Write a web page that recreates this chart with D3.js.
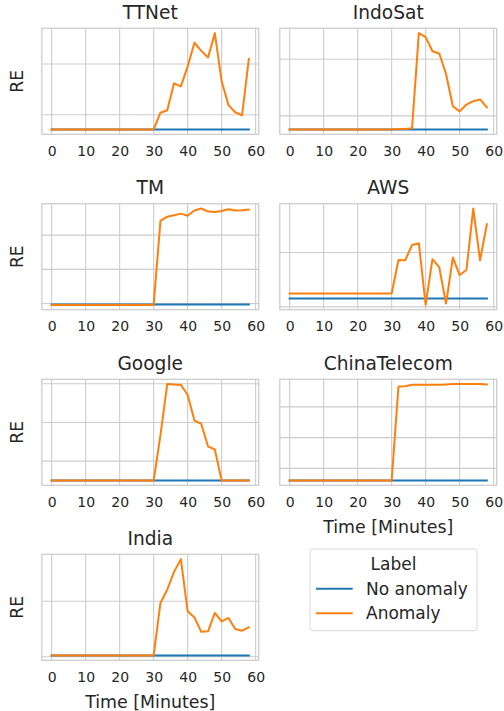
<!DOCTYPE html>
<html>
<head>
<meta charset="utf-8">
<script src="https://cdn.jsdelivr.net/npm/d3@7"></script>
<style>
body { margin: 0; background: #fff; }
text { font-family: "DejaVu Sans", sans-serif; fill: #262626; }
</style>
</head>
<body>
<svg width="504" height="711"></svg>
<script>
// time axis, one sample every 2 minutes
var minutes = [0, 2, 4, 6, 8, 10, 12, 14, 16, 18, 20, 22, 24, 26, 28, 30, 32, 34, 36, 38, 40, 42, 44, 46, 48, 50, 52, 54, 56, 58];
var xTicks = [0, 10, 20, 30, 40, 50, 60];

var panelNames = ["TTNet", "IndoSat", "TM", "AWS", "Google", "ChinaTelecom", "India"];
var labels = ["No anomaly", "Anomaly"];

var ttnetNormal = [0.71, 0.71, 0.71, 0.71, 0.71, 0.71, 0.71, 0.71, 0.71, 0.71, 0.71, 0.71, 0.71, 0.71, 0.71, 0.71, 0.71, 0.71, 0.71, 0.71, 0.71, 0.71, 0.71, 0.71, 0.71, 0.71, 0.71, 0.71, 0.71, 0.71];
var ttnetAnomaly = [0.71, 0.71, 0.71, 0.71, 0.71, 0.71, 0.71, 0.71, 0.71, 0.71, 0.71, 0.71, 0.71, 0.71, 0.71, 0.71, 1.04, 1.09, 1.62, 1.56, 1.95, 2.42, 2.26, 2.13, 2.61, 1.66, 1.19, 1.05, 0.99, 2.10];

var indosatNormal = [0.76, 0.76, 0.76, 0.76, 0.76, 0.76, 0.76, 0.76, 0.76, 0.76, 0.76, 0.76, 0.76, 0.76, 0.76, 0.76, 0.76, 0.76, 0.76, 0.76, 0.76, 0.76, 0.76, 0.76, 0.76, 0.76, 0.76, 0.76, 0.76, 0.76];
var indosatAnomaly = [0.76, 0.76, 0.76, 0.76, 0.76, 0.76, 0.76, 0.76, 0.76, 0.76, 0.76, 0.76, 0.76, 0.76, 0.76, 0.76, 0.77, 0.77, 0.78, 2.46, 2.39, 2.14, 2.10, 1.74, 1.17, 1.08, 1.20, 1.26, 1.29, 1.15];

var tmNormal = [0.97, 0.97, 0.97, 0.97, 0.97, 0.97, 0.97, 0.97, 0.97, 0.97, 0.97, 0.97, 0.97, 0.97, 0.97, 0.97, 0.97, 0.97, 0.97, 0.97, 0.97, 0.97, 0.97, 0.97, 0.97, 0.97, 0.97, 0.97, 0.97, 0.97];
var tmAnomaly = [0.96, 0.96, 0.96, 0.96, 0.96, 0.96, 0.96, 0.96, 0.96, 0.96, 0.96, 0.96, 0.96, 0.96, 0.96, 0.96, 3.42, 3.54, 3.58, 3.63, 3.57, 3.72, 3.78, 3.69, 3.68, 3.71, 3.76, 3.72, 3.73, 3.75];

var awsNormal = [0.154, 0.154, 0.154, 0.154, 0.154, 0.154, 0.154, 0.154, 0.154, 0.154, 0.154, 0.154, 0.154, 0.154, 0.154, 0.154, 0.154, 0.154, 0.154, 0.154, 0.154, 0.154, 0.154, 0.154, 0.154, 0.154, 0.154, 0.154, 0.154, 0.154];
var awsAnomaly = [0.247, 0.247, 0.247, 0.247, 0.247, 0.247, 0.247, 0.247, 0.247, 0.247, 0.247, 0.247, 0.247, 0.247, 0.247, 0.247, 0.864, 0.858, 1.14, 1.17, 0.037, 0.877, 0.728, 0.062, 0.907, 0.586, 0.679, 1.81, 0.858, 1.52];

var googleNormal = [0.5, 0.5, 0.5, 0.5, 0.5, 0.5, 0.5, 0.5, 0.5, 0.5, 0.5, 0.5, 0.5, 0.5, 0.5, 0.5, 0.5, 0.5, 0.5, 0.5, 0.5, 0.5, 0.5, 0.5, 0.5, 0.5, 0.5, 0.5, 0.5, 0.5];
var googleAnomaly = [0.5, 0.5, 0.5, 0.5, 0.5, 0.5, 0.5, 0.5, 0.5, 0.5, 0.5, 0.5, 0.5, 0.5, 0.5, 0.5, 1.67, 2.99, 2.98, 2.97, 2.71, 2.05, 1.96, 1.38, 1.30, 0.5, 0.5, 0.5, 0.5, 0.5];

var chinaNormal = [0.607, 0.607, 0.607, 0.607, 0.607, 0.607, 0.607, 0.607, 0.607, 0.607, 0.607, 0.607, 0.607, 0.607, 0.607, 0.607, 0.607, 0.607, 0.607, 0.607, 0.607, 0.607, 0.607, 0.607, 0.607, 0.607, 0.607, 0.607, 0.607, 0.607];
var chinaAnomaly = [0.607, 0.607, 0.607, 0.607, 0.607, 0.607, 0.607, 0.607, 0.607, 0.607, 0.607, 0.607, 0.607, 0.607, 0.607, 0.607, 3.66, 3.67, 3.72, 3.72, 3.72, 3.72, 3.72, 3.73, 3.74, 3.74, 3.74, 3.74, 3.74, 3.73];

var indiaNormal = [0.024, 0.024, 0.024, 0.024, 0.024, 0.024, 0.024, 0.024, 0.024, 0.024, 0.024, 0.024, 0.024, 0.024, 0.024, 0.024, 0.024, 0.024, 0.024, 0.024, 0.024, 0.024, 0.024, 0.024, 0.024, 0.024, 0.024, 0.024, 0.024, 0.024];
var indiaAnomaly = [0.024, 0.024, 0.024, 0.024, 0.024, 0.024, 0.024, 0.024, 0.024, 0.024, 0.024, 0.024, 0.024, 0.024, 0.024, 0.024, 0.97, 1.21, 1.53, 1.76, 0.82, 0.71, 0.45, 0.46, 0.79, 0.64, 0.70, 0.50, 0.47, 0.53];

// y gridline positions per panel (labels are hidden in the original)
var yTicks = [[1, 2], [1, 2], [1, 2, 3], [0, 1], [1, 2, 3], [1, 2, 3], [0, 1]];

var normalSeries = [ttnetNormal, indosatNormal, tmNormal, awsNormal, googleNormal, chinaNormal, indiaNormal];
var anomalySeries = [ttnetAnomaly, indosatAnomaly, tmAnomaly, awsAnomaly, googleAnomaly, chinaAnomaly, indiaAnomaly];

var colors = ["#1f77b4", "#ff7f0e"];
var gridColor = "#cccccc";

var svg = d3.select("svg");

var colLeft = [41.8, 279.8];
var rowTop = [28.3, 203.7, 379.3, 554.3];
var panelW = 216.9, panelH = 106;

// matplotlib style 5% margin
function padded(ext) {
	var p = (ext[1] - ext[0]) * 0.05;
	return [ext[0] - p, ext[1] + p];
}

for (var i = 0; i < panelNames.length; i++) {
	var col = i % 2, row = Math.floor(i / 2);
	var g = svg.append("g")
	.attr("transform", "translate(" + colLeft[col] + "," + rowTop[row] + ")");

	var x = d3.scaleLinear()
	.domain(padded(d3.extent(minutes)))
	.range([0, panelW]);

	var allVals = normalSeries[i].concat(anomalySeries[i]);
	var y = d3.scaleLinear()
	.domain(padded(d3.extent(allVals)))
	.range([panelH, 0]);

	// grid
	g.append("g")
	.selectAll("line.vx")
	.data(xTicks)
	.enter().append("line")
	.attr("x1", function(d) { return x(d); })
	.attr("x2", function(d) { return x(d); })
	.attr("y1", 0)
	.attr("y2", panelH)
	.attr("stroke", gridColor)
	.attr("stroke-width", 1.1);

	g.append("g")
	.selectAll("line.hy")
	.data(yTicks[i])
	.enter().append("line")
	.attr("x1", 0)
	.attr("x2", panelW)
	.attr("y1", function(d) { return y(d); })
	.attr("y2", function(d) { return y(d); })
	.attr("stroke", gridColor)
	.attr("stroke-width", 1.1);

	// frame
	g.append("rect")
	.attr("width", panelW)
	.attr("height", panelH)
	.attr("fill", "none")
	.attr("stroke", gridColor)
	.attr("stroke-width", 1.25);

	// x tick labels
	var xAxis = d3.axisBottom(x).tickValues(xTicks).tickSize(0).tickPadding(0);
	var ax = g.append("g")
	.attr("transform", "translate(0," + panelH + ")")
	.call(xAxis);
	ax.select(".domain").remove();
	ax.selectAll("text")
	.attr("dy", null)
	.attr("y", 21.3)
	.attr("fill", "#262626")
	.style("font-size", "14px")
	.style("font-family", "DejaVu Sans");

	var line = d3.line()
	.x(function(d, k) { return x(minutes[k]); })
	.y(function(d) { return y(d); });

	[normalSeries[i], anomalySeries[i]].forEach(function(s, k) {
		g.append("path")
		.datum(s)
		.attr("d", line)
		.attr("fill", "none")
		.attr("stroke", colors[k])
		.attr("stroke-width", 2)
		.attr("stroke-linejoin", "round")
		.attr("stroke-linecap", "square");
	});

	// title
	g.append("text")
	.attr("x", panelW / 2)
	.attr("y", -9.3)
	.attr("text-anchor", "middle")
	.style("font-size", "18.6px")
	.text(panelNames[i]);

	if (col == 0) {
		g.append("text")
		.attr("transform", "translate(-18.5," + (panelH / 2) + ") rotate(-90)")
		.attr("text-anchor", "middle")
		.style("font-size", "17.2px")
		.text("RE");
	}

	if (i == 5 || i == 6) {
		g.append("text")
		.attr("x", panelW / 2)
		.attr("y", panelH + 47.4)
		.attr("text-anchor", "middle")
		.style("font-size", "17.4px")
		.text("Time [Minutes]");
	}
}

// legend
var legend = svg.append("g").attr("transform", "translate(310,549)");

legend.append("rect")
.attr("width", 167)
.attr("height", 81.7)
.attr("rx", 3)
.attr("fill", "#fff")
.attr("stroke", "#d9d9d9")
.attr("stroke-width", 1);

legend.append("text")
.attr("x", 83.5)
.attr("y", 20.5)
.attr("text-anchor", "middle")
.style("font-size", "17px")
.text("Label");

var items = legend.selectAll("g.item")
.data(labels)
.enter().append("g")
.attr("transform", function(d, k) { return "translate(0," + (39.7 + k * 24.6) + ")"; });

items.append("line")
.attr("x1", 6)
.attr("x2", 42.7)
.attr("stroke", function(d, k) { return colors[k]; })
.attr("stroke-width", 2);

items.append("text")
.attr("x", 56)
.attr("y", 5.8)
.style("font-size", "17px")
.text(function(d) { return d; });
</script>
</body>
</html>
